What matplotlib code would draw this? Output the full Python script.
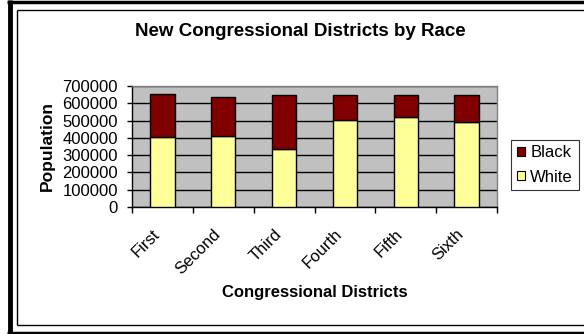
import matplotlib
matplotlib.use("Agg")
import matplotlib.pyplot as plt
from matplotlib.patches import Patch
from matplotlib.lines import Line2D
from matplotlib.transforms import ScaledTranslation

plt.rcParams['font.family'] = ['Liberation Sans', 'DejaVu Sans']

districts = ["First", "Second", "Third", "Fourth", "Fifth", "Sixth"]
white = [403000, 412000, 337000, 501000, 522000, 490000]
black = [249000, 226000, 309000, 145000, 124000, 156000]
yticks = [0, 100000, 200000, 300000, 400000, 500000, 600000, 700000]

W, H = 584, 334
fig = plt.figure(figsize=(W / 100, H / 100), dpi=100)
fig.patch.set_facecolor('white')

ax = fig.add_axes([132 / W, 1 - 207 / H, (497 - 132) / W, (207 - 86) / H])
ax.set_facecolor('#C0C0C0')

x = list(range(len(districts)))
ax.bar(x, white, width=0.4, color='#FFFF99', edgecolor='black', linewidth=1, zorder=3, label='White')
ax.bar(x, black, width=0.4, bottom=white, color='#800000', edgecolor='black', linewidth=1, zorder=3, label='Black')

ax.set_xlim(-0.5, len(districts) - 0.5)
ax.set_ylim(0, 700000)
ax.set_yticks(yticks)
ax.set_yticklabels([str(v) for v in yticks], fontsize=12)
ax.yaxis.grid(True, color='black', linewidth=1, zorder=1)
ax.set_axisbelow(True)

ax.set_xticks([i - 0.5 for i in range(len(districts) + 1)])
ax.set_xticklabels([])
ax.set_xticks(x, minor=True)
ax.set_xticklabels(districts, minor=True, fontsize=12, rotation=45,
                   ha='right', va='center', rotation_mode='anchor')
ax.tick_params(axis='x', which='minor', length=0, pad=18)
ax.tick_params(axis='x', which='major', length=4.3, width=1, color='black', direction='out')
ax.tick_params(axis='y', length=3.6, width=1, color='black', direction='out', pad=6.5)
shift = ScaledTranslation(-0.05, 0, fig.dpi_scale_trans)
for lab in ax.get_xticklabels(minor=True):
    lab.set_transform(lab.get_transform() + shift)

for s in ['top', 'right']:
    ax.spines[s].set_color('#808080')
    ax.spines[s].set_linewidth(1)
for s in ['left', 'bottom']:
    ax.spines[s].set_color('black')
    ax.spines[s].set_linewidth(1)

ax.set_ylabel('Population', fontsize=12.5, fontweight='bold')
ax.set_xlabel('Congressional Districts', fontsize=12, fontweight='bold')
ax.xaxis.set_label_coords(0.5, -(293 - 207) / (207 - 86), transform=ax.transAxes)
ax.xaxis.label.set_va('center')
ax.yaxis.set_label_coords(-(132 - 47) / (497 - 132), 0.5, transform=ax.transAxes)
ax.yaxis.label.set_va('center')

fig.text(300 / W, 1 - 32 / H, 'New Congressional Districts by Race', fontsize=13.5,
         fontweight='bold', ha='center', va='center')

handles = [Patch(facecolor='#800000', edgecolor='black', linewidth=0.8),
           Patch(facecolor='#FFFF99', edgecolor='black', linewidth=0.8)]
leg = fig.legend(handles, ['Black', 'White'], loc='center left',
                 bbox_to_anchor=(511 / W, 1 - 165 / H), fontsize=12,
                 frameon=True, fancybox=False, shadow=False,
                 handlelength=0.5, handleheight=0.5, handletextpad=0.3,
                 labelspacing=0.55, borderpad=0.35, borderaxespad=0)
leg.get_frame().set_edgecolor('black')
leg.get_frame().set_linewidth(0.8)

# Frame lines (cropped Excel chart border)
def pline(xs, ys, lw):
    fig.add_artist(Line2D([v / W for v in xs], [1 - v / H for v in ys],
                          transform=fig.transFigure, color='black', linewidth=lw,
                          solid_capstyle='butt'))

pline([7, W], [1.5, 1.5], 2.5)
pline([9.5, 9.5], [0, H], 3.5)
pline([7, W], [332.5, 332.5], 2.5)
pline([16.5, W], [9.5, 9.5], 1)
pline([16.5, 16.5], [9.5, 325], 1)
pline([16.5, W], [325, 325], 1)

fig.savefig('out.png', dpi=100)
